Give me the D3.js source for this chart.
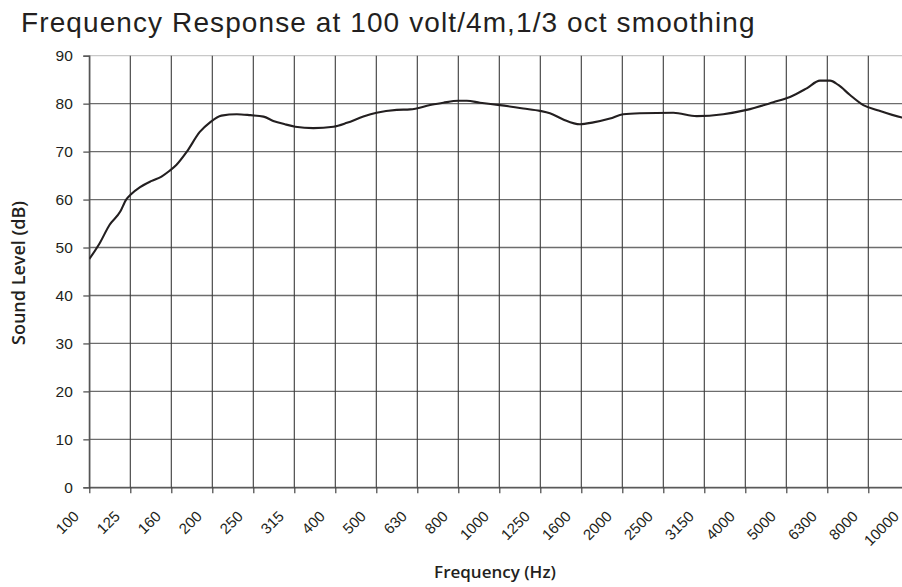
<!DOCTYPE html>
<html>
<head>
    <meta charset='utf-8' />
    <title>Frequency Response</title>
    <script src="https://d3js.org/d3.v7.min.js" charset="utf-8"></script>
    <style>
        body {
            margin: 0;
            background: #fff;
            font-family: "Liberation Sans", Arial, sans-serif;
        }
        .title {
            font-size: 28px;
            letter-spacing: 1.1px;
            fill: #231f20;
        }
        .tick text {
            font-size: 15.5px;
            fill: #231f20;
        }
        .axis-title {
            font-family: "Open Sans", sans-serif;
            font-weight: 600;
            fill: #231f20;
        }
        .grid line {
            stroke: #6d6d6d;
            stroke-width: 1.3;
        }
    </style>
</head>
<body>
    <div id="graphic"></div>
    <script>
        // 1/3 octave band labels shown on the x axis
        var bandLabels = ["100", "125", "160", "200", "250", "315", "400", "500", "630", "800",
            "1000", "1250", "1600", "2000", "2500", "3150", "4000", "5000", "6300", "8000", "10000"];

        var yTicks = [0, 10, 20, 30, 40, 50, 60, 70, 80, 90];

        // frequency (Hz)
        var freq = [100, 106, 112, 119, 123, 126, 133, 142, 150, 157, 163, 173, 186, 197, 210, 229,
            247, 266, 281, 300, 318, 352, 394, 425, 466, 502, 562, 606, 678, 730, 794, 833, 897,
            1004, 1144, 1257, 1329, 1432, 1573, 1696, 1862, 2006, 2204, 2657, 3030, 3518, 4012,
            4660, 5117, 5621, 6056, 6407, 6712, 7168, 7724, 8328, 9600, 10000];

        // sound level (dB)
        var level = [47.6, 50.9, 54.7, 57.5, 60.0, 61.0, 62.6, 63.9, 64.8, 66.0, 67.2, 70.0, 74.1,
            76.1, 77.5, 77.8, 77.6, 77.3, 76.4, 75.7, 75.2, 74.9, 75.2, 76.0, 77.3, 78.1, 78.7,
            78.8, 79.7, 80.2, 80.6, 80.6, 80.2, 79.7, 79.0, 78.5, 78.0, 76.7, 75.7, 76.1, 76.9,
            77.8, 78.0, 78.1, 77.4, 77.8, 78.7, 80.3, 81.4, 83.2, 84.8, 84.8, 83.9, 81.8, 79.7,
            78.7, 77.1, 76.8];

        var data = freq.map(function (f, i) {
            return { f: f, v: level[i] };
        });

        var W = 902, H = 587;
        var margin = { top: 55.7, left: 89.3, bottom: 99.7 };
        var plotRight = 909.3; // the right edge runs past the window, as in the original

        var svg = d3.select("#graphic").append("svg")
            .attr("width", W)
            .attr("height", H);

        // log scale: 20 third-octave bands over two decades
        var x = d3.scaleLog()
            .domain([100, 10000])
            .range([margin.left, plotRight]);

        var y = d3.scaleLinear()
            .domain([0, 90])
            .range([H - margin.bottom, margin.top]);

        var bandFreq = bandLabels.map(function (d, i) {
            return 100 * Math.pow(10, i / 10);
        });

        svg.append("text")
            .attr("class", "title")
            .attr("x", 21)
            .attr("y", 32)
            .text("Frequency Response at 100 volt/4m,1/3 oct smoothing");

        // horizontal grid
        svg.append("g")
            .attr("class", "grid")
            .selectAll("line")
            .data(yTicks)
            .enter()
            .append("line")
            .attr("x1", margin.left)
            .attr("x2", plotRight)
            .attr("y1", function (d) { return y(d); })
            .attr("y2", function (d) { return y(d); })
            .style("stroke", function (d) { return d === 90 ? "#c8c8c8" : null; });

        // vertical grid
        svg.append("g")
            .attr("class", "grid")
            .selectAll("line")
            .data(bandFreq)
            .enter()
            .append("line")
            .attr("x1", function (d) { return x(d); })
            .attr("x2", function (d) { return x(d); })
            .attr("y1", y(90))
            .attr("y2", y(0))
            .style("stroke", "#3a3a3a")
            .style("stroke-width", 1.1);

        var yAxis = d3.axisLeft(y)
            .tickValues(yTicks)
            .tickSize(6)
            .tickPadding(10.5);

        var gy = svg.append("g")
            .attr("class", "y axis")
            .attr("transform", "translate(" + margin.left + ",0)")
            .call(yAxis);
        gy.select(".domain").attr("stroke", "#555").attr("stroke-width", 1.3);
        gy.selectAll(".tick line").attr("stroke", "#555").attr("stroke-width", 1.3);

        var xAxis = d3.axisBottom(x)
            .tickValues(bandFreq)
            .tickFormat(function (d, i) { return bandLabels[i]; })
            .tickSize(6)
            .tickSizeOuter(0);

        var gx = svg.append("g")
            .attr("class", "x axis")
            .attr("transform", "translate(0," + y(0) + ")")
            .call(xAxis);
        gx.select(".domain").attr("stroke", "#555").attr("stroke-width", 1.3);
        gx.selectAll(".tick line").attr("stroke", "#444").attr("stroke-width", 1.2);
        gx.selectAll(".tick text")
            .style("font-size", "15px")
            .attr("text-anchor", "end")
            .attr("dy", null)
            .attr("y", null)
            .attr("transform", "translate(-10,30) rotate(-45)");

        svg.append("clipPath").attr("id", "plotclip")
            .append("rect")
            .attr("x", margin.left)
            .attr("y", y(90))
            .attr("width", plotRight - margin.left)
            .attr("height", y(0) - y(90));

        var line = d3.line()
            .x(function (d) { return x(d.f); })
            .y(function (d) { return y(d.v); })
            .curve(d3.curveMonotoneX);

        svg.append("path")
            .datum(data)
            .attr("clip-path", "url(#plotclip)")
            .attr("d", line)
            .attr("fill", "none")
            .attr("stroke", "#231f20")
            .attr("stroke-width", 2.1);

        svg.append("text")
            .attr("class", "axis-title")
            .attr("text-anchor", "middle")
            .style("font-size", "18px")
            .attr("transform", "translate(25,273) rotate(-90)")
            .text("Sound Level (dB)");

        svg.append("text")
            .attr("class", "axis-title")
            .attr("text-anchor", "middle")
            .style("font-size", "17px")
            .attr("x", 495)
            .attr("y", 578)
            .text("Frequency (Hz)");
    </script>
</body>
</html>
